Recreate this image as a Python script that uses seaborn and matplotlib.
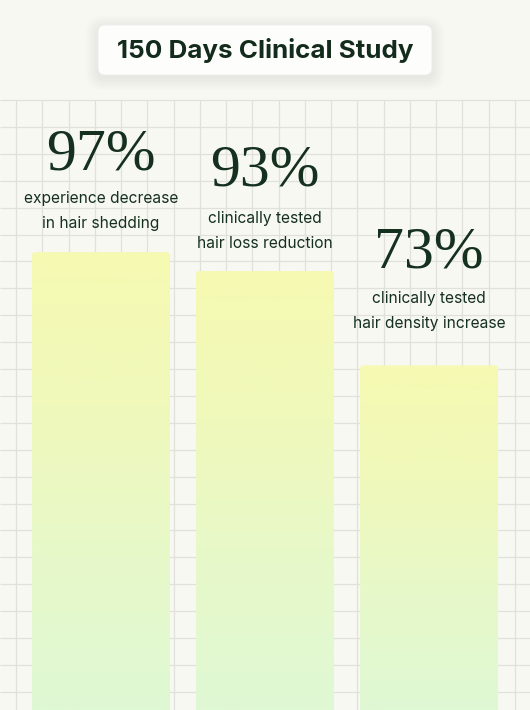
import matplotlib
matplotlib.use("Agg")
import matplotlib.pyplot as plt
import numpy as np
import pandas as pd
import seaborn as sns
from matplotlib.colors import LinearSegmentedColormap
from matplotlib.patches import FancyBboxPatch

# data
title = "150 Days Clinical Study"
values = [97, 93, 73]
value_labels = ["97%", "93%", "73%"]
captions = [
    ["experience decrease", "in hair shedding"],
    ["clinically tested", "hair loss reduction"],
    ["clinically tested", "hair density increase"],
]

# layout (pixels on a 530x710 canvas)
W, H = 530, 710
number_baseline = [170, 185, 268]
caption_baseline = [203, 223, 303]
caption_step = 25

BG = "#f8f8f3"
GRID = "#e1e1db"
INK = "#15301f"

sns.set_theme(style="white")
plt.rcParams["font.family"] = ["Inter", "DejaVu Sans"]

fig = plt.figure(figsize=(W / 100, H / 100), dpi=100)
fig.patch.set_facecolor(BG)

# background: grid paper + title card
bg = fig.add_axes([0, 0, 1, 1])
bg.set_xlim(0, W)
bg.set_ylim(H, 0)
bg.axis("off")
xs = 16 + 26.26 * np.arange(20)
ys = 100 + 26.9 * np.arange(23)
bg.vlines(xs, 100, H, color=GRID, lw=0.9)
bg.hlines(ys, 0, W, color=GRID, lw=0.9)

for i in range(8):
    p = 1 + i * 1.6
    bg.add_patch(FancyBboxPatch((98 - p, 28 - p), 334 + 2 * p, 50 + 2 * p,
                                boxstyle=f"round,pad=0,rounding_size={7 + p}",
                                fc="#6f7260", ec="none", alpha=0.01, zorder=2))
bg.add_patch(FancyBboxPatch((98, 25), 334, 50, boxstyle="round,pad=0,rounding_size=7",
                            fc="#fdfdfb", ec="#ececea", lw=0.6, zorder=3))
bg.text(265, 58, title, ha="center", va="baseline", fontsize=18.7,
        fontweight="bold", color="#132b1b", zorder=4)

# bars
ax = fig.add_axes([0, 0, 1, 1], facecolor="none")
df = pd.DataFrame({"stat": value_labels, "value": values})
sns.barplot(data=df, x="stat", y="value", ax=ax, width=0.841, errorbar=None,
            color="#eaf8c4")

px_per_x = 164.0
px_per_y = 4.72
xlim = (-101 / px_per_x, (W - 101) / px_per_x)
ylim = (0, H / px_per_y)

cmap = LinearSegmentedColormap.from_list(
    "bar", ["#dff9d4", "#e7f8c9", "#f0f9bb", "#f6f9b1"])
grad = np.linspace(0, 1, 256).reshape(-1, 1)
r = 3.0
for patch in list(ax.patches):
    x0, w, h = patch.get_x(), patch.get_width(), patch.get_height()
    patch.set_visible(False)
    clip = FancyBboxPatch((x0, -10), w, h + 10,
                          boxstyle=f"round,pad=0,rounding_size={r / px_per_x}",
                          mutation_aspect=px_per_x / px_per_y,
                          transform=ax.transData, fc="none", ec="none")
    im = ax.imshow(grad, extent=[x0, x0 + w, 0, h], origin="lower",
                   aspect="auto", cmap=cmap, zorder=2)
    im.set_clip_path(clip)

ax.set_xlim(*xlim)
ax.set_ylim(*ylim)
ax.axis("off")

# labels above bars
for i in range(len(values)):
    cx = 101 + i * 164
    bg.text(cx, number_baseline[i], value_labels[i], ha="center", va="baseline",
            fontsize=43, family=["Liberation Serif", "DejaVu Serif"], color=INK,
            zorder=5)
    for j, line in enumerate(captions[i]):
        bg.text(cx, caption_baseline[i] + j * caption_step, line, ha="center",
                va="baseline", fontsize=11.2, color=INK, zorder=5)

fig.savefig("out.png", dpi=100, facecolor=BG)
